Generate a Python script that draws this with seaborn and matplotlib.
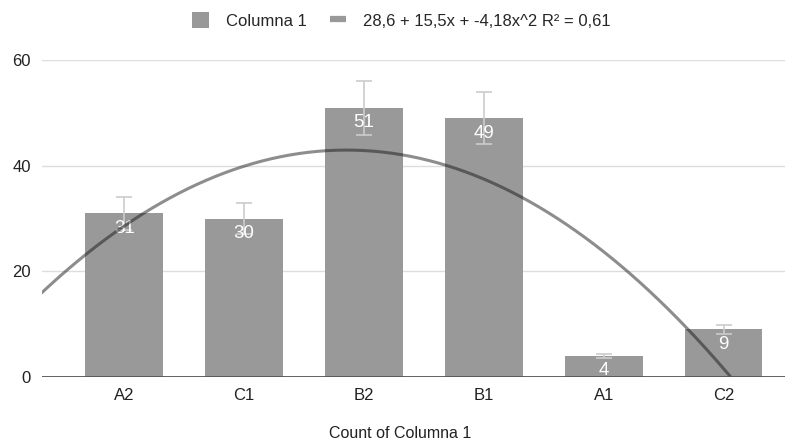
import numpy as np
import pandas as pd
import matplotlib
matplotlib.use("Agg")
import matplotlib.pyplot as plt
import seaborn as sns
from matplotlib.patches import Patch
from matplotlib.lines import Line2D

categories = ["A2", "C1", "B2", "B1", "A1", "C2"]
values = [31, 30, 51, 49, 4, 9]
errors = [3.1, 3.0, 5.1, 4.9, 0.4, 0.9]
trend_coef = [28.6, 15.5, -4.18]  # c0 + c1*x + c2*x^2
trend_label = "28,6 + 15,5x + -4,18x^2 R² = 0,61"
series_name = "Columna 1"
x_title = "Count of Columna 1"
yticks = [0, 20, 40, 60]

sns.set_theme(style="white")
plt.rcParams['font.family'] = ['Liberation Sans', 'DejaVu Sans']

df = pd.DataFrame({"cat": categories, "val": values})

fig = plt.figure(figsize=(7.95, 4.42), dpi=100)
ax = fig.add_axes([0.053, 0.147, 0.934, 0.717])

bar_color = "#999999"
sns.barplot(data=df, x="cat", y="val", color=bar_color, width=0.65,
            saturation=1, ax=ax, zorder=2)
for p in ax.patches:
    p.set_edgecolor("none")

xs = np.arange(len(categories))
ax.errorbar(xs, values, yerr=errors, fmt="none", ecolor="#cccccc",
            elinewidth=1.2, capsize=6, capthick=1.2, zorder=3)

for x, v in zip(xs, values):
    ax.text(x, v - 1.2, str(v), ha="center", va="top", color="white",
            fontsize=13.5, zorder=4)

# trendline from legend coefficients
xt = np.linspace(-0.7, 5.06, 300)
yt = trend_coef[0] + trend_coef[1] * xt + trend_coef[2] * xt ** 2
ax.plot(xt, yt, color="#111111", alpha=0.48, lw=2.2, zorder=5,
        solid_capstyle="butt")

ax.set_xlim(-0.685, 5.51)
ax.set_ylim(0, 60)
ax.set_yticks(yticks)
ax.set_yticklabels([str(t) for t in yticks])
ax.grid(axis="y", color="#dddddd", lw=1, zorder=0)
ax.set_axisbelow(True)
ax.axhline(0, color="#555555", lw=1.3, zorder=6)
for s in ax.spines.values():
    s.set_visible(False)
ax.tick_params(axis="both", length=0, labelsize=12, colors="#222222")
ax.tick_params(axis="y", pad=8)
ax.tick_params(axis="x", pad=8)
ax.set_xlabel("")
ax.set_ylabel("")
fig.text(0.503, 0.002, x_title, ha="center", va="bottom", fontsize=11.5,
         color="#222222")

handles = [Patch(facecolor=bar_color, edgecolor="none", label=series_name),
           Line2D([0], [0], color="#999999", lw=4.5, label=trend_label,
                  solid_capstyle="butt")]
fig.legend(handles=handles, loc="center", bbox_to_anchor=(0.505, 0.953),
           ncol=2, frameon=False, fontsize=12, handlelength=1.0,
           handleheight=1.1, columnspacing=1.4, handletextpad=1.0)

fig.savefig("out.png", dpi=100)
